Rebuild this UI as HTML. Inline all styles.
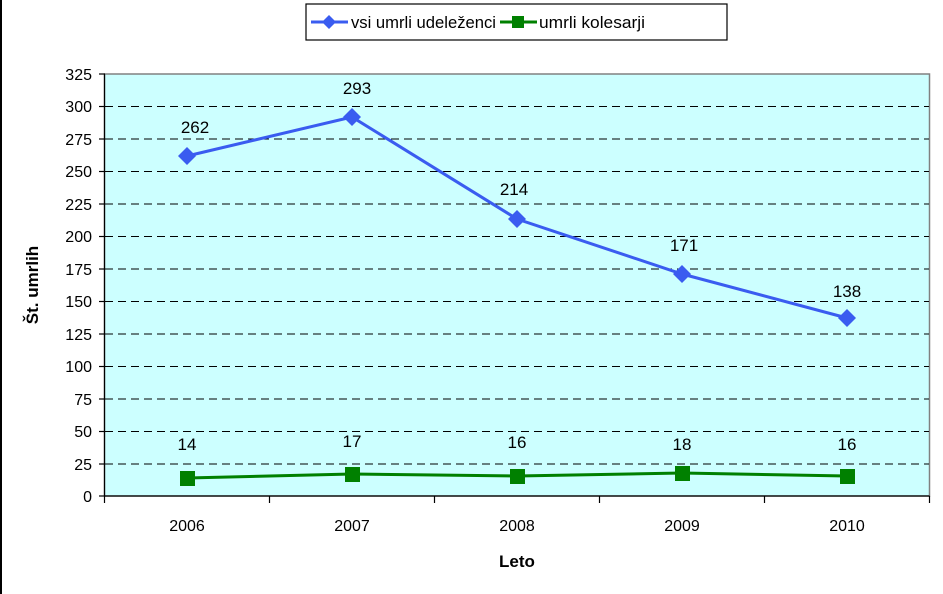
<!DOCTYPE html>
<html><head><style>body{margin:0;background:#fff}svg{display:block}</style></head><body>
<svg width="943" height="594" viewBox="0 0 943 594" xmlns="http://www.w3.org/2000/svg" font-family="Liberation Sans, Arial, sans-serif">
<rect x="0" y="0" width="943" height="594" fill="#fff"/>
<line x1="1" y1="0" x2="1" y2="594" stroke="#000" stroke-width="2"/>
<rect x="104.5" y="74" width="825" height="422" fill="#ccffff" stroke="#808080" stroke-width="1.5"/>
<g stroke="#000" stroke-dasharray="8,5" stroke-width="1">
<line x1="105" x2="929" y1="106.5" y2="106.5"/><line x1="105" x2="929" y1="139" y2="139"/><line x1="105" x2="929" y1="171.5" y2="171.5"/><line x1="105" x2="929" y1="204" y2="204"/><line x1="105" x2="929" y1="236.5" y2="236.5"/><line x1="105" x2="929" y1="269" y2="269"/><line x1="105" x2="929" y1="301.5" y2="301.5"/><line x1="105" x2="929" y1="334" y2="334"/><line x1="105" x2="929" y1="366.5" y2="366.5"/><line x1="105" x2="929" y1="399" y2="399"/><line x1="105" x2="929" y1="431.5" y2="431.5"/><line x1="105" x2="929" y1="464" y2="464"/>
</g>
<g stroke="#000" stroke-width="1.2">
<line x1="104.5" y1="74" x2="104.5" y2="496"/><line x1="104.5" y1="496" x2="929.5" y2="496"/>
<line x1="99" x2="105" y1="74" y2="74"/><line x1="99" x2="105" y1="106.5" y2="106.5"/><line x1="99" x2="105" y1="139" y2="139"/><line x1="99" x2="105" y1="171.5" y2="171.5"/><line x1="99" x2="105" y1="204" y2="204"/><line x1="99" x2="105" y1="236.5" y2="236.5"/><line x1="99" x2="105" y1="269" y2="269"/><line x1="99" x2="105" y1="301.5" y2="301.5"/><line x1="99" x2="105" y1="334" y2="334"/><line x1="99" x2="105" y1="366.5" y2="366.5"/><line x1="99" x2="105" y1="399" y2="399"/><line x1="99" x2="105" y1="431.5" y2="431.5"/><line x1="99" x2="105" y1="464" y2="464"/><line x1="99" x2="105" y1="496" y2="496"/>
<line x1="104.5" x2="104.5" y1="496" y2="503"/><line x1="269.5" x2="269.5" y1="496" y2="503"/><line x1="434.5" x2="434.5" y1="496" y2="503"/><line x1="599.5" x2="599.5" y1="496" y2="503"/><line x1="764.5" x2="764.5" y1="496" y2="503"/><line x1="929.5" x2="929.5" y1="496" y2="503"/>
</g>
<g font-size="16" text-anchor="end" fill="#000">
<text x="92" y="80">325</text><text x="92" y="112">300</text><text x="92" y="145">275</text><text x="92" y="177">250</text><text x="92" y="210">225</text><text x="92" y="242">200</text><text x="92" y="275">175</text><text x="92" y="307">150</text><text x="92" y="340">125</text><text x="92" y="372">100</text><text x="92" y="405">75</text><text x="92" y="437">50</text><text x="92" y="470">25</text><text x="92" y="502">0</text>
</g>
<g font-size="16" text-anchor="middle" fill="#000">
<text x="187" y="531">2006</text><text x="352" y="531">2007</text><text x="517" y="531">2008</text><text x="682" y="531">2009</text><text x="847" y="531">2010</text>
</g>
<text x="517" y="567" font-size="17" font-weight="bold" text-anchor="middle">Leto</text>
<text transform="translate(38,285) rotate(-90)" font-size="17" font-weight="bold" text-anchor="middle">Št. umrlih</text>
<polyline points="187,156 352,117 517,219 682,274 847,318" fill="none" stroke="#3a5cf0" stroke-width="3"/>
<g fill="#3a5cf0">
<polygon points="187,147 196,156 187,165 178,156"/><polygon points="352,108 361,117 352,126 343,117"/><polygon points="517,210 526,219 517,228 508,219"/><polygon points="682,265 691,274 682,283 673,274"/><polygon points="847,309 856,318 847,327 838,318"/>
</g>
<polyline points="187,478 352,474 517,476 682,473 847,476" fill="none" stroke="#008000" stroke-width="3"/>
<g fill="#008000">
<rect x="180" y="471" width="15" height="15"/><rect x="345" y="467" width="15" height="15"/><rect x="510" y="469" width="15" height="15"/><rect x="675" y="466" width="15" height="15"/><rect x="840" y="469" width="15" height="15"/>
</g>
<g font-size="17" text-anchor="middle" fill="#000">
<text x="195" y="133">262</text><text x="357" y="94">293</text><text x="514" y="195">214</text><text x="684" y="251">171</text><text x="847" y="297">138</text>
<text x="187" y="450">14</text><text x="352" y="447">17</text><text x="517" y="448">16</text><text x="682" y="450">18</text><text x="847" y="450">16</text>
</g>
<rect x="306" y="4" width="421" height="36" fill="#fff" stroke="#000" stroke-width="1.2"/>
<line x1="311" y1="22" x2="348" y2="22" stroke="#3a5cf0" stroke-width="3"/>
<polygon points="329,15 336,22 329,29 322,22" fill="#3a5cf0"/>
<text x="351" y="28" font-size="17" textLength="145" lengthAdjust="spacingAndGlyphs">vsi umrli udeleženci</text>
<line x1="500" y1="22" x2="537" y2="22" stroke="#008000" stroke-width="3"/>
<rect x="512" y="16" width="12" height="12" fill="#008000"/>
<text x="539" y="28" font-size="17" textLength="106" lengthAdjust="spacingAndGlyphs">umrli kolesarji</text>
</svg>
</body></html>
